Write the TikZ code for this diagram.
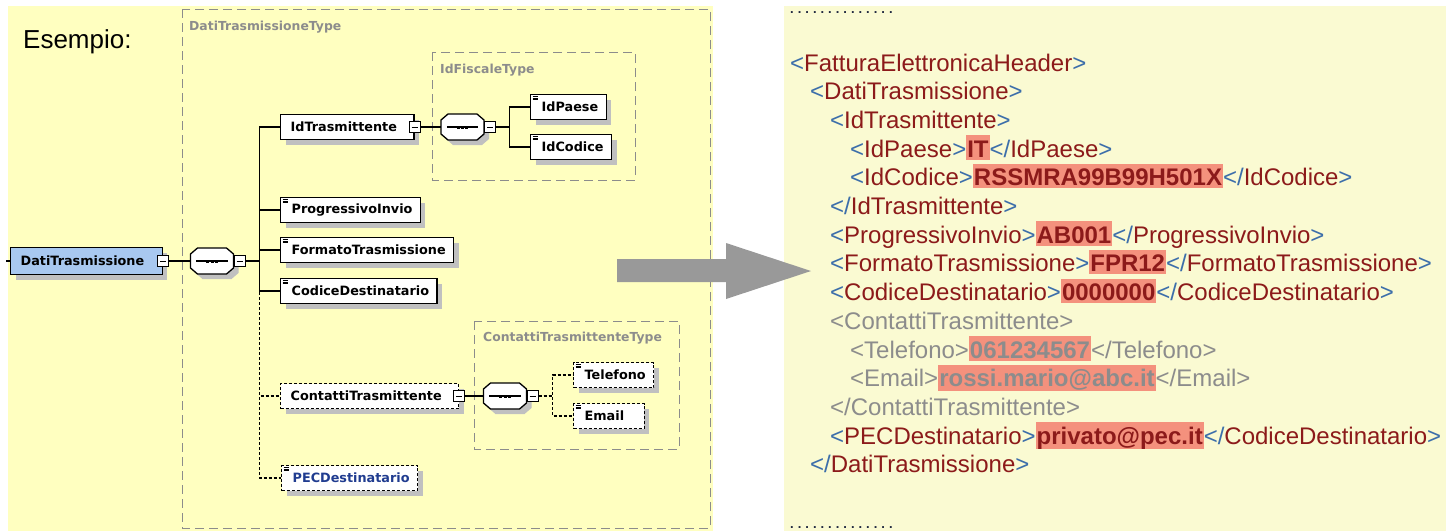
\documentclass[tikz,border=0pt]{standalone}
\usepackage{fontspec}
\setmainfont{Liberation Sans}
\newfontfamily\xsdfont{DejaVu Sans}
\usepackage{tikz}
\usetikzlibrary{positioning, shadows}

\definecolor{paneyellow}{HTML}{FFFFC0}
\definecolor{codeyellow}{HTML}{FAFAD2}
\definecolor{rootblue}{HTML}{A8C8F0}
\definecolor{shadowgray}{HTML}{C0C0C0}
\definecolor{typegray}{HTML}{8C8C8C}
\definecolor{arrowgray}{HTML}{999999}
\definecolor{tagblue}{HTML}{3C6EAA}
\definecolor{tagred}{HTML}{8C1A1A}
\definecolor{xmlgray}{HTML}{8C8C8C}
\definecolor{hilite}{HTML}{F4917D}
\definecolor{pecblue}{HTML}{203C90}
\definecolor{dotnavy}{HTML}{202840}

\newcommand{\elemfont}{\xsdfont\bfseries\fontsize{12.8}{15}\selectfont}
\newcommand{\xsdtypefont}{\xsdfont\bfseries\fontsize{12.4}{15}\selectfont}

% xml tags and values
\newcommand{\xo}[1]{\textcolor{tagblue}{<}\textcolor{tagred}{#1}\textcolor{tagblue}{>}}
\newcommand{\xc}[1]{\textcolor{tagblue}{</}\textcolor{tagred}{#1}\textcolor{tagblue}{>}}
\newcommand{\xv}[1]{{\fboxsep=0pt\colorbox{hilite}{\rule[-2.5pt]{0pt}{24.5pt}\kern1pt\textcolor{tagred}{\bfseries #1}\kern1pt}}}
% a row of spaced dots
\newcommand{\dotrow}{\foreach \i in {1,...,14}{\makebox[7.6pt][l]{.}}}

% sequence compositor: octagon with shadow, line and three dots
\newcommand{\octpath}{+(-21.5,-7) -- +(-14.5,-13) -- +(14.5,-13) -- +(21.5,-7) -- +(21.5,7) -- +(14.5,13) -- +(-14.5,13) -- +(-21.5,7) -- cycle}
\newcommand{\seqbox}[1]{%
  \fill[shadowgray] ([shift={(5pt,-5pt)}]#1.center) \octpath;
  \filldraw[fill=white, line width=1.3pt] (#1.center) \octpath;
  \draw[line width=1.1pt] ([xshift=6pt]#1.west) -- ([xshift=-6pt]#1.east);
  \foreach \d in {-4.2,0,4.2}
    \fill ([xshift=\d pt]#1.center) +(-1.5,-1.5) rectangle +(1.5,1.5);}

\tikzset{pad left/.initial=11pt, pad right/.initial=8pt}

\begin{document}
\begin{tikzpicture}[x=1pt, y=-1pt,
  conn/.style={line width=1.3pt},
  opt/.style={dash pattern=on 3pt off 2pt},
  elem/.style={draw, line width=1.3pt, fill=white, font=\elemfont, anchor=west,
    minimum height=25pt, inner xsep=0pt, inner ysep=0pt,
    execute at begin node={\hspace*{\pgfkeysvalueof{/tikz/pad left}}},
    execute at end node={\hspace*{\pgfkeysvalueof{/tikz/pad right}}},
    general shadow={fill=shadowgray, shadow xshift=5pt, shadow yshift=-5pt}},
  simple/.style={elem, path picture={
    \foreach \k in {1.8,3.4,5.0}
      \draw[solid, line width=0.7pt] ([shift={(2pt,-\k pt)}]path picture bounding box.north west) -- ++(5pt,0pt);}},
  cplx/.style={elem, pad left=10pt, pad right=17pt},
  minus/.style={draw, solid, line width=1pt, fill=white, minimum size=11pt, inner sep=0pt,
    path picture={\draw[solid, line width=1pt] ([xshift=2.5pt]path picture bounding box.west) -- ([xshift=-2.5pt]path picture bounding box.east);}},
  seq/.style={minimum width=43pt, minimum height=26pt, inner sep=0pt},
  typebox/.style={draw=typegray, line width=1pt, dash pattern=on 9pt off 5pt},
  typelabel/.style={anchor=west, inner sep=0pt, text=typegray, font=\xsdtypefont},
  xml/.style={anchor=base west, inner sep=0pt, font=\fontsize{24}{29}\selectfont},
  greyed/.style={execute at begin node={\colorlet{tagblue}{xmlgray}\colorlet{tagred}{xmlgray}}},
  dots/.style={anchor=base west, inner sep=0pt, text=dotnavy, font=\bfseries\fontsize{13}{14}\selectfont}
]
  \useasboundingbox (0,0) rectangle (1446,531);

  % the two panels
  \fill[paneyellow] (8,6) rectangle (713,531);
  \fill[codeyellow] (784,6) rectangle (1446,531);

  \node[anchor=base west, inner sep=0pt, font=\fontsize{26}{30}\selectfont] (esempio) at (23,48) {Esempio:};

  % schema tree
  \draw[typebox] (182,9) rectangle (710,528);
  \node[typelabel] (tdati) at (189,27) {DatiTrasmissioneType};

  \node[cplx, fill=rootblue, minimum height=27pt, pad right=18pt] (dati) at (10,261) {DatiTrasmissione};
  \node[minus] (datim) at (dati.east) {};
  \node[seq] (sq1) at (212,261) {};
  \seqbox{sq1}
  \node[minus, right=0pt of sq1] (sq1m) {};
  \draw[conn] (dati.west) -- ++(-4,0);
  \draw[conn] (datim) -- (sq1);

  \node[cplx] (idtr) at (280,127) {IdTrasmittente};
  \node[minus] (idtrm) at (idtr.east) {};
  \node[simple] (prog) at (280,210) {ProgressivoInvio};
  \node[simple] (fmt) at (280,250) {FormatoTrasmissione};
  \node[simple] (cod) at (280,291) {CodiceDestinatario};
  \node[cplx, opt] (cont) at (280,396) {ContattiTrasmittente};
  \node[minus] (contm) at (cont.east) {};
  \node[simple, opt, text=pecblue] (pec) at (281,478) {PECDestinatario};

  \foreach \c in {idtr,prog,fmt,cod}
    \draw[conn] (sq1m.east) -- ++(14,0) |- (\c.west);
  \foreach \c in {cont,pec}
    \draw[conn, opt] (sq1m.east) -- ++(14,0) |- (\c.west);

  % IdFiscaleType
  \draw[typebox] (432,52) rectangle (635,180);
  \node[typelabel] (tfisc) at (440,70) {IdFiscaleType};
  \node[seq] (sq2) at (462.5,127) {};
  \seqbox{sq2}
  \node[minus, right=0pt of sq2] (sq2m) {};
  \draw[conn] (idtrm) -- (sq2);
  \node[simple] (paese) at (530,107) {IdPaese};
  \node[simple] (codice) at (530,147) {IdCodice};
  \foreach \c in {paese,codice}
    \draw[conn] (sq2m.east) -- ++(13,0) |- (\c.west);

  % ContattiTrasmittenteType
  \draw[typebox] (474,321) rectangle (679,449);
  \node[typelabel] (tcont) at (483,338) {ContattiTrasmittenteType};
  \node[seq] (sq3) at (505,396) {};
  \seqbox{sq3}
  \node[minus, right=0pt of sq3] (sq3m) {};
  \draw[conn] (contm) -- (sq3);
  \node[simple, opt] (tel) at (573,375) {Telefono};
  \node[simple, opt, pad right=20pt] (mail) at (573,416) {Email};
  \foreach \c in {tel,mail}
    \draw[conn, opt] (sq3m.east) -- ++(14,0) |- (\c.west);

  % big arrow
  \fill[arrowgray] (617,259) -- (726,259) -- (726,243) -- (811,271) -- (726,299) -- (726,282) -- (617,282) -- cycle;

  % xml listing
  \node[dots] (dtop) at (790,13.5) {\dotrow};
  \node[xml] (l0) at (790,71) {\xo{FatturaElettronicaHeader}};
  \node[xml] (l1) at (810,99.7) {\xo{DatiTrasmissione}};
  \node[xml] (l2) at (830,128.4) {\xo{IdTrasmittente}};
  \node[xml] (l3) at (850,157.1) {\xo{IdPaese}\xv{IT}\xc{IdPaese}};
  \node[xml] (l4) at (850,185.8) {\xo{IdCodice}\xv{RSSMRA99B99H501X}\xc{IdCodice}};
  \node[xml] (l5) at (830,214.5) {\xc{IdTrasmittente}};
  \node[xml] (l6) at (830,243.2) {\xo{ProgressivoInvio}\xv{AB001}\xc{ProgressivoInvio}};
  \node[xml] (l7) at (830,271.9) {\xo{FormatoTrasmissione}\xv{FPR12}\xc{FormatoTrasmissione}};
  \node[xml] (l8) at (830,300.6) {\xo{CodiceDestinatario}\xv{0000000}\xc{CodiceDestinatario}};
  \node[xml, greyed] (l9) at (830,329.3) {\xo{ContattiTrasmittente}};
  \node[xml, greyed] (l10) at (850,358) {\xo{Telefono}\xv{061234567}\xc{Telefono}};
  \node[xml, greyed] (l11) at (850,386.7) {\xo{Email}\xv{rossi.mario@abc.it}\xc{Email}};
  \node[xml, greyed] (l12) at (830,415.4) {\xc{ContattiTrasmittente}};
  \node[xml] (l13) at (830,444.1) {\xo{PECDestinatario}\xv{privato@pec.it}\xc{CodiceDestinatario}};
  \node[xml] (l14) at (810,472.8) {\xc{DatiTrasmissione}};
  \node[dots] (dbot) at (790,528) {\dotrow};
\end{tikzpicture}
\end{document}
